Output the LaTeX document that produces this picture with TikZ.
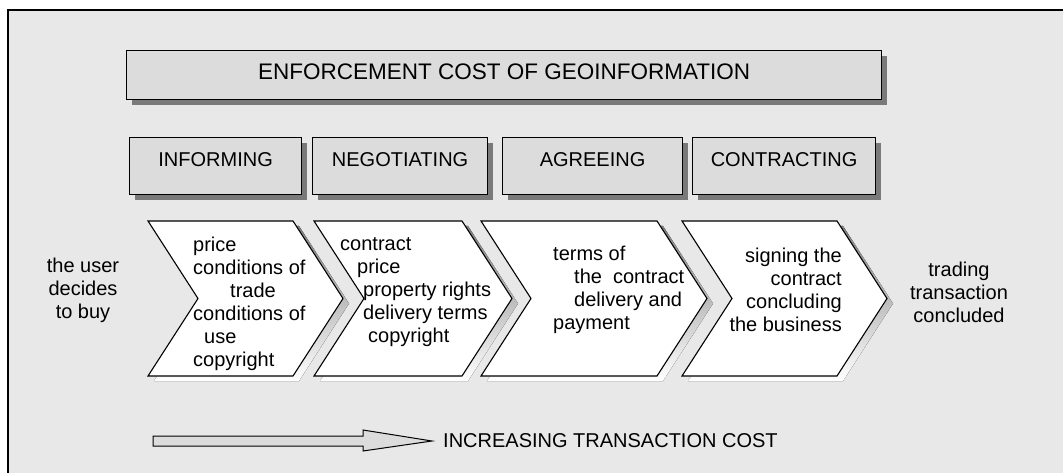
\documentclass[tikz,border=0pt]{standalone}
\usepackage{fontspec}
\setmainfont{Liberation Sans}
\usepackage{tikz}
\usetikzlibrary{shadows}

\definecolor{panel}{HTML}{E8E8E8}
\definecolor{boxgray}{HTML}{DCDCDC}
\definecolor{shade}{HTML}{7A7A7A}

\tikzset{
  txt/.style={font=\fontsize{20}{23}\selectfont, inner sep=0pt},
  boxed/.style={txt, draw, line width=1.2pt, fill=boxgray, anchor=north west,
    general shadow={fill=shade, shadow xshift=5pt, shadow yshift=-5pt}},
  phase/.style={boxed, minimum height=57pt, text height=10pt, text depth=10pt},
  chev/.style={draw, line width=1.1pt, fill=white, line join=miter}
}

\begin{document}
\begin{tikzpicture}[x=1pt,y=-1pt]
\path[use as bounding box] (0,0) rectangle (1063,473);
\clip (0,0) rectangle (1063,473);
\draw[line width=1.3pt, fill=panel] (8,10) rectangle (1080,490);

\node[boxed, minimum width=755pt, minimum height=49pt, font=\fontsize{22.5}{26}\selectfont,
  text height=12pt, text depth=4pt] (enforce) at (126,50)
  {ENFORCEMENT COST OF GEOINFORMATION};

\node[phase, minimum width=172pt] (inform) at (129,137) {INFORMING\hspace{10pt}};
\node[phase, minimum width=175pt] (negot) at (312,137) {NEGOTIATING};
\node[phase, minimum width=180pt] (agree) at (502,137) {AGREEING};
\node[phase, minimum width=183pt] (contr) at (692,137) {CONTRACTING};

\foreach \l/\r in {148/293,314/462,481/657,682/837}{
  \fill[shade, xshift=6pt, yshift=-5pt] (\l,221) -- (\r,221) -- ++(50,77.5) -- (\r,376)
    -- (\l,376) -- ++(50,-77.5) -- cycle;
  \draw[chev] (\l,221) -- (\r,221) -- ++(50,77.5) -- (\r,376)
    -- (\l,376) -- ++(50,-77.5) -- cycle;
}

\node[txt, align=center] (start) at (83,290) {the user\\decides\\to buy};
\node[txt, align=left, anchor=west] (infotxt) at (193,304)
  {price\\conditions of\\\hspace{37pt}trade\\conditions of\\\hspace{11pt}use\\copyright};
\node[txt, align=left, anchor=west] (negtxt) at (340,292)
  {contract\\\hspace{17pt}price\\\hspace{23pt}property rights\\\hspace{23pt}delivery terms\\\hspace{28pt}copyright};
\node[txt, align=left, anchor=west] (agrtxt) at (553,290)
  {terms of\\\hspace{21pt}the\ \ contract\\\hspace{21pt}delivery and\\payment};
\node[txt, align=right, anchor=east] (contxt) at (842,290)
  {signing the\\contract\\concluding\\the business};
\node[txt, align=center] (finish) at (959,292) {trading\\transaction\\concluded};

\coordinate (tip) at (432,441);
\draw[line width=1pt, fill=boxgray] (153,436) -- (363,436) -- (363,430) -- (tip)
  -- (363,451) -- (363,446) -- (153,446) -- cycle;
\node[txt, anchor=west] (cost) at (443,441) {INCREASING TRANSACTION COST};
\end{tikzpicture}
\end{document}
